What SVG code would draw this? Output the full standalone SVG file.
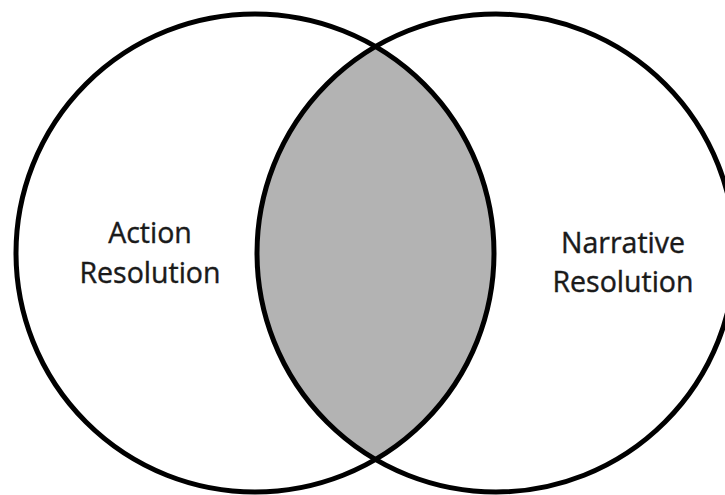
<svg xmlns="http://www.w3.org/2000/svg" width="725" height="495" viewBox="0 0 725 495">
<style>
.ring{fill:none;stroke:#000;stroke-width:5}
.lbl{font-family:"Open Sans","Liberation Sans",Arial,sans-serif;font-size:28.5px;font-weight:400;fill:#1a1a1a;stroke:#1a1a1a;stroke-width:0.4;text-anchor:middle}
</style>
<rect width="725" height="495" fill="#fff"/>
<g id="overlap">
<path d="M375.5,47 A239,239 0 0,0 375.5,459 A239,239 0 0,0 375.5,47 Z" fill="#b3b3b3"/>
</g>
<g id="action">
<circle class="ring" cx="255" cy="253" r="239"/>
<text class="lbl" x="150" y="243">Action</text>
<text class="lbl" x="150" y="283">Resolution</text>
</g>
<g id="narrative">
<circle class="ring" cx="496" cy="253" r="239"/>
<text class="lbl" x="623" y="253">Narrative</text>
<text class="lbl" x="623" y="292">Resolution</text>
</g>
</svg>
